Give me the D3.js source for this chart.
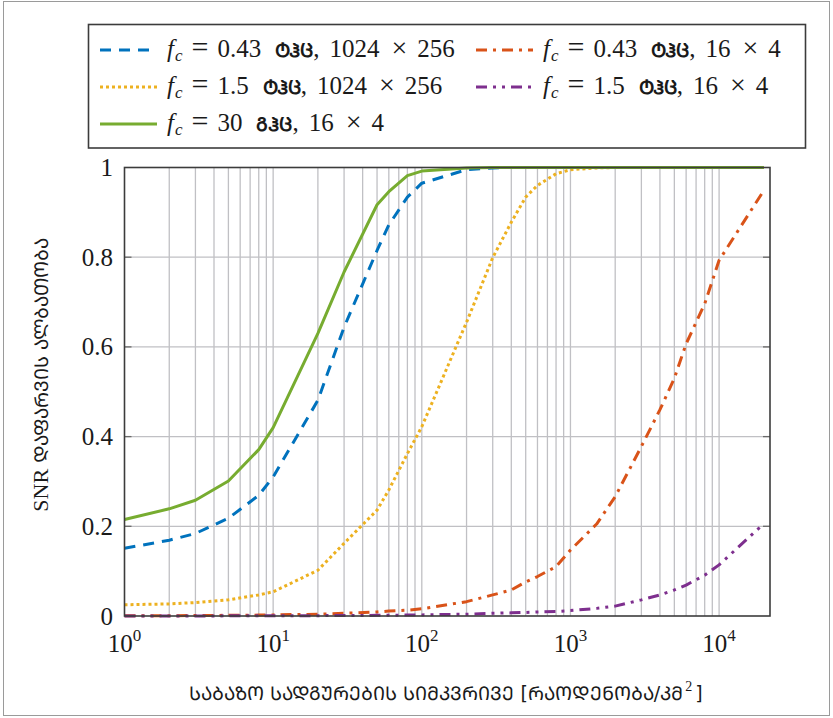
<!DOCTYPE html>
<html>
<head>
<meta charset="utf-8">
<script src="https://cdn.jsdelivr.net/npm/d3@7/dist/d3.min.js"></script>
<style>
  html, body { margin: 0; padding: 0; background: #fff; }
  svg { display: block; }
</style>
</head>
<body>
<svg id="chart" width="833" height="718"></svg>
<script>
// Base-station density samples (per km^2)
const density = [1, 2, 3, 5, 8, 10, 20, 30, 50, 60, 80, 100, 200, 300, 400, 500, 600, 800,
                 1000, 1500, 2000, 3000, 4000, 5000, 6000, 8000, 10000, 20000];

// SNR coverage probability for each configuration
const thz043Big = [0.151, 0.169, 0.184, 0.218, 0.269, 0.31, 0.481, 0.644, 0.815, 0.872, 0.934, 0.965,
                   0.995, 0.999, 1, 1, 1, 1, 1, 1, 1, 1, 1, 1, 1, 1, 1, 1];
const thz15Big = [0.025, 0.027, 0.030, 0.036, 0.047, 0.054, 0.102, 0.162, 0.236, 0.281, 0.362, 0.422,
                  0.655, 0.799, 0.878, 0.934, 0.96, 0.986, 0.995, 0.999, 1, 1, 1, 1, 1, 1, 1, 1];
const ghz30Small = [0.215, 0.239, 0.258, 0.301, 0.371, 0.42, 0.63, 0.767, 0.917, 0.946, 0.982, 0.992,
                    0.999, 1, 1, 1, 1, 1, 1, 1, 1, 1, 1, 1, 1, 1, 1, 1];
const thz043Small = [0.0005, 0.0007, 0.001, 0.0015, 0.002, 0.0025, 0.004, 0.006, 0.009, 0.011, 0.013, 0.016,
                     0.032, 0.047, 0.058, 0.076, 0.088, 0.11, 0.147, 0.205, 0.266, 0.378, 0.46, 0.53,
                     0.607, 0.696, 0.793, 0.949];
const thz15Small = [0.0001, 0.0001, 0.0002, 0.0003, 0.0004, 0.0005, 0.0008, 0.001, 0.0015, 0.0018, 0.002, 0.0025,
                    0.004, 0.006, 0.007, 0.008, 0.009, 0.01, 0.012, 0.017, 0.022, 0.036, 0.047, 0.058,
                    0.069, 0.091, 0.114, 0.206];

const xTickExps = [0, 1, 2, 3, 4];
const yTicks = [0, 0.2, 0.4, 0.6, 0.8, 1];
const yTickLabels = ["0", "0.2", "0.4", "0.6", "0.8", "1"];

// Legend entries: carrier frequency, unit, antenna array
const series = [
  { values: thz043Big,   fc: "0.43", unit: "ტჰც", array: ["1024", "256"], color: "#0072BD", dash: "11,8",         col: 0, row: 0 },
  { values: thz043Small, fc: "0.43", unit: "ტჰც", array: ["16", "4"],     color: "#D95319", dash: "11,6,3,6",     col: 1, row: 0 },
  { values: thz15Big,    fc: "1.5",  unit: "ტჰც", array: ["1024", "256"], color: "#EDB120", dash: "3,3",          col: 0, row: 1 },
  { values: thz15Small,  fc: "1.5",  unit: "ტჰც", array: ["16", "4"],     color: "#7E2F8E", dash: "11,6,3,6,3,6", col: 1, row: 1 },
  { values: ghz30Small,  fc: "30",   unit: "გჰც", array: ["16", "4"],     color: "#77AC30", dash: null,           col: 0, row: 2 }
];

const yLabelPrefix = "SNR ";
const yLabelText = "დაფარვის ალბათობა";
const xLabelText = "საბაზო სადგურების სიმკვრივე [რაოდენობა/კმ";

// Georgian headline (Mtavruli) forms of Mkhedruli letters
function caps(s) {
  return Array.from(s).map(ch => {
    const c = ch.codePointAt(0);
    return (c >= 0x10D0 && c <= 0x10FA) ? String.fromCodePoint(c + 0xBC0) : ch;
  }).join("");
}

const svg = d3.select("#chart");
const serif = "'Liberation Serif', 'DejaVu Serif', serif";
const geo = "'DejaVu Sans', 'Noto Sans', sans-serif";
const ink = "#1a1a1a";

// outer frame
svg.append("rect").attr("x", 3.5).attr("y", 1.5).attr("width", 826).attr("height", 714)
  .attr("fill", "none").attr("stroke", "#9a9a9a").attr("stroke-width", 1);

const x = d3.scaleLog().domain([1, 22000]).range([124.5, 770]);
const y = d3.scaleLinear().domain([0, 1]).range([616, 167.5]);

const plot = svg.append("g");

// grid: major and minor decades
const gridX = [];
xTickExps.forEach(e => {
  for (let m = 1; m <= 9; m++) {
    const v = m * Math.pow(10, e);
    if (v > 1 && v <= 10000) gridX.push(v);
  }
});
plot.selectAll("line.gx").data(gridX).join("line")
  .attr("x1", d => x(d)).attr("x2", d => x(d))
  .attr("y1", y(0)).attr("y2", y(1))
  .attr("stroke", "#c0c0c4").attr("stroke-width", 1.3);
plot.selectAll("line.gy").data(yTicks.slice(1, -1)).join("line")
  .attr("x1", x.range()[0]).attr("x2", x.range()[1])
  .attr("y1", d => y(d)).attr("y2", d => y(d))
  .attr("stroke", "#c0c0c4").attr("stroke-width", 1.3);

// inner tick marks on both vertical sides
[[0, 7], [1, -7]].forEach(([side, len]) => {
  const x0 = x.range()[side];
  plot.selectAll(null).data(yTicks.slice(1, -1)).join("line")
    .attr("x1", x0).attr("x2", x0 + len)
    .attr("y1", d => y(d)).attr("y2", d => y(d))
    .attr("stroke", "#6a6a6a").attr("stroke-width", 1.3);
});

// curves
const line = d3.line().x((d, i) => x(density[i])).y(d => y(d));
series.forEach(s => {
  plot.append("path").datum(s.values)
    .attr("d", line)
    .attr("fill", "none")
    .attr("stroke", s.color)
    .attr("stroke-width", 3)
    .attr("stroke-linejoin", "round")
    .attr("stroke-dasharray", s.dash);
});

// axes box
plot.append("rect")
  .attr("x", x.range()[0]).attr("y", y(1))
  .attr("width", x.range()[1] - x.range()[0]).attr("height", y(0) - y(1))
  .attr("fill", "none").attr("stroke", "#3c3c3c").attr("stroke-width", 1.6);

// y tick labels
svg.selectAll("text.yt").data(yTicks).join("text")
  .attr("x", 113).attr("y", d => y(d) + 8.5)
  .attr("text-anchor", "end")
  .attr("font-family", serif).attr("font-size", 25).attr("fill", ink)
  .text((d, i) => yTickLabels[i]);

// x tick labels 10^k
xTickExps.forEach(e => {
  const t = svg.append("text")
    .attr("x", x(Math.pow(10, e))).attr("y", 652)
    .attr("text-anchor", "middle")
    .attr("font-family", serif).attr("font-size", 25).attr("fill", ink);
  t.append("tspan").text("10");
  t.append("tspan").attr("font-size", 17).attr("dy", -11).text(String(e));
});

// axis titles
const xl = svg.append("text")
  .attr("x", 446).attr("y", 700)
  .attr("text-anchor", "middle")
  .attr("font-family", geo).attr("font-size", 19).attr("fill", ink);
xl.append("tspan").text(caps(xLabelText));
xl.append("tspan").attr("font-family", serif).attr("font-size", 14).attr("dy", -9).attr("dx", 2).text("2");
xl.append("tspan").attr("dy", 9).attr("dx", 3).text("]");

const yl = svg.append("text")
  .attr("transform", "translate(48,375) rotate(-90)")
  .attr("text-anchor", "middle")
  .attr("font-family", geo).attr("font-size", 19).attr("fill", ink);
yl.append("tspan").attr("font-family", serif).attr("font-size", 22).text(yLabelPrefix);
yl.append("tspan").text(caps(yLabelText));

// legend
const leg = svg.append("g");
leg.append("rect").attr("x", 88.5).attr("y", 24.5).attr("width", 717).attr("height", 123.5)
  .attr("fill", "#fff").attr("stroke", "#3c3c3c").attr("stroke-width", 1.6);

const colX = [100, 476];
const rowY = [50, 87, 124];
series.forEach(s => {
  const lx = colX[s.col], ly = rowY[s.row];
  leg.append("line")
    .attr("x1", lx).attr("x2", lx + 57).attr("y1", ly).attr("y2", ly)
    .attr("stroke", s.color).attr("stroke-width", 3)
    .attr("stroke-dasharray", s.dash);
  const t = leg.append("text")
    .attr("x", lx + 67).attr("y", ly + 6.5)
    .attr("font-family", serif).attr("font-size", 25).attr("fill", ink);
  t.append("tspan").attr("font-style", "italic").text("f");
  t.append("tspan").attr("font-style", "italic").attr("font-size", 17).attr("dy", 4).attr("dx", 1).text("c");
  t.append("tspan").attr("dy", -4).attr("dx", 9).attr("font-size", 30).text("=");
  t.append("tspan").attr("dx", 9).text(s.fc);
  t.append("tspan").attr("dx", 14).attr("font-family", geo).attr("font-size", 19).attr("font-weight", "bold").text(caps(s.unit));
  t.append("tspan").text(",");
  t.append("tspan").attr("dx", 10).text(s.array[0]);
  t.append("tspan").attr("dx", 12).attr("font-size", 28).text("×");
  t.append("tspan").attr("dx", 10).text(s.array[1]);
});
</script>
</body>
</html>
